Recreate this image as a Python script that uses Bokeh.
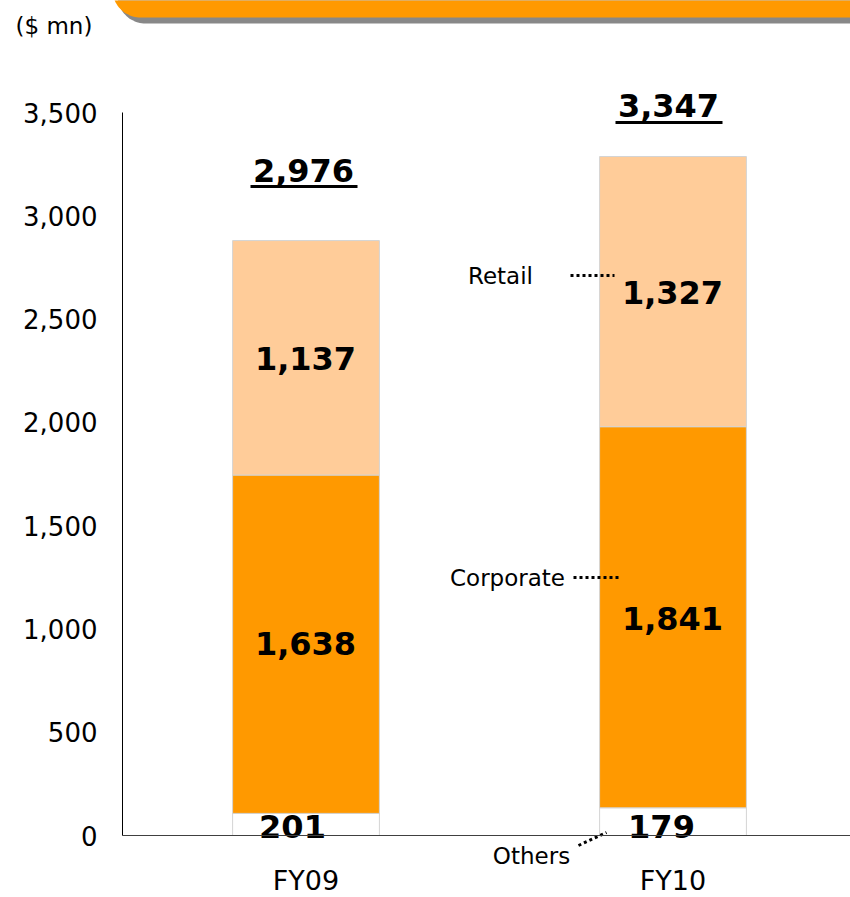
import numpy as np
from bokeh.plotting import figure
from bokeh.models import Range1d, ColumnDataSource, NumeralTickFormatter, FixedTicker
from bokeh.core.properties import value
from bokeh.embed import file_html
from bokeh.resources import INLINE

# ---- data ----
categories = ["FY09", "FY10"]
# segment heights as drawn in the picture
others_bar = [107, 134]
corporate_bar = [1638, 1845]
retail_bar = [1135, 1308]
# values printed on the chart
others_val = [201, 179]
corporate_val = [1638, 1841]
retail_val = [1137, 1327]
totals_val = [o + c + r for o, c, r in zip(others_val, corporate_val, retail_val)]
y_ticks = [0, 500, 1000, 1500, 2000, 2500, 3000, 3500]

# ---- layout helpers (pixel -> data) ----
X0, XS = 122.0, 367.0        # px of x=0, px per category
Y0, YS = 835.0, 723.0 / 3500  # px of y=0, px per unit
def dx(px): return (px - X0) / XS
def dy(py): return (Y0 - py) / YS

FONT = value("DejaVu Sans")
W, H = 850, 897

p = figure(width=W, height=H, output_backend="svg", toolbar_location=None,
           x_range=Range1d(dx(0), dx(W)), y_range=Range1d(dy(H), dy(0)),
           min_border_left=0, min_border_right=0, min_border_top=0, min_border_bottom=0,
           outline_line_color=None)
p.grid.visible = False
p.background_fill_color = "white"

# banner (decorative)
def banner(shift_x, shift_y):
    r = 28
    left, bottom = 112 + shift_x, 17 + shift_y
    cx, cy = left + r, bottom - r
    a = np.linspace(np.pi, np.pi / 2, 24)
    xs = [left] + list(cx + r * np.cos(a)) + [900, 900]
    ys = [-40] + list(cy + r * np.sin(a)) + [bottom, -40]
    return [dx(v) for v in xs], [dy(v) for v in ys]
gx, gy = banner(5, 6)
p.patch(gx, gy, fill_color="#888888", line_color=None)
ox, oy = banner(0, 0)
p.patch(ox, oy, fill_color="#FF9900", line_color=None)

# bars
xpos = [0.5, 1.5]
src = ColumnDataSource(dict(x=xpos, others=others_bar, corporate=corporate_bar, retail=retail_bar))
p.vbar_stack(["others", "corporate", "retail"], x="x", width=0.4, source=src,
             fill_color=["#FFFFFF", "#FF9900", "#FFCC99"], line_color="#D4D4D4", line_width=1)

# axes (both placed inside the frame)
p.yaxis.fixed_location = 0
p.yaxis.ticker = FixedTicker(ticks=y_ticks)
p.yaxis.formatter = NumeralTickFormatter(format="0,0")
p.yaxis.bounds = (0, 3500)
p.yaxis.major_tick_line_color = None
p.yaxis.minor_tick_line_color = None
p.yaxis.major_tick_out = 0
p.yaxis.major_tick_in = 0
p.yaxis.major_label_standoff = 25
p.yaxis.major_label_text_font = "DejaVu Sans"
p.yaxis.major_label_text_font_size = "26px"
p.yaxis.major_label_text_color = "#000000"
p.yaxis.axis_line_color = "#000000"

p.xaxis.fixed_location = 0
p.xaxis.bounds = (0, dx(W))
p.xaxis.ticker = FixedTicker(ticks=xpos)
p.xaxis.major_label_overrides = {0.5: categories[0], 1.5: categories[1]}
p.xaxis.major_tick_line_color = None
p.xaxis.minor_tick_line_color = None
p.xaxis.major_tick_out = 0
p.xaxis.major_tick_in = 0
p.xaxis.major_label_standoff = 29
p.xaxis.major_label_text_font = "DejaVu Sans"
p.xaxis.major_label_text_font_size = "27px"
p.xaxis.major_label_text_color = "#000000"
p.xaxis.axis_line_color = "#404040"

# value labels
def fmt(v): return f"{v:,}"
bold = dict(text_font=FONT, text_font_style="bold", text_font_size="32px",
            text_align="center", text_baseline="middle", text_color="#000000")
p.text(x=[dx(305), dx(672)], y=[dy(358), dy(292)], text=[fmt(v) for v in retail_val], **bold)
p.text(x=[dx(305), dx(672)], y=[dy(643), dy(618)], text=[fmt(v) for v in corporate_val], **bold)
p.text(x=[dx(292), dx(661)], y=[dy(826), dy(826)], text=[fmt(v) for v in others_val], **bold)
p.text(x=[dx(303), dx(668)], y=[dy(170), dy(105)], text=[fmt(v) for v in totals_val], **bold)
p.segment(x0=[dx(250), dx(615)], y0=[dy(186), dy(122)], x1=[dx(357), dx(722)], y1=[dy(186), dy(122)],
          line_color="#000000", line_width=3)

# series labels with dotted leaders
lab = dict(text_font=FONT, text_font_size="23px", text_align="center",
           text_baseline="middle", text_color="#000000")
p.text(x=[dx(500), dx(507), dx(531)], y=[dy(275), dy(577), dy(855)],
       text=["Retail", "Corporate", "Others"], **lab)
p.segment(x0=[dx(570), dx(573), dx(578)], y0=[dy(275), dy(577), dy(845)],
          x1=[dx(614), dx(618), dx(606)], y1=[dy(275), dy(577), dy(832)],
          line_color="#000000", line_width=3, line_dash="3 3")

# unit label
p.text(x=[dx(15)], y=[dy(25)], text=["($ mn)"], text_font=FONT, text_font_size="23px",
       text_align="left", text_baseline="middle", text_color="#000000")

open("out.html", "w").write(file_html(p, INLINE))
